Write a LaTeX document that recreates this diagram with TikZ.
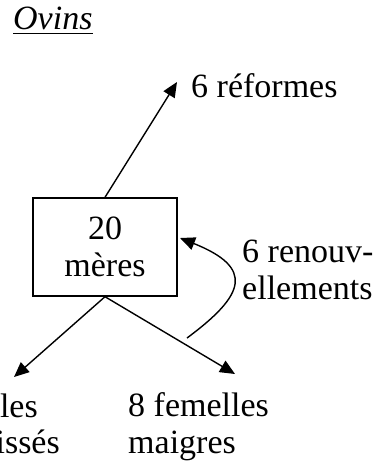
\documentclass[tikz,border=0pt]{standalone}
\usepackage{fontspec}
\setmainfont{Liberation Serif}
\usetikzlibrary{arrows.meta}
\tikzset{
  txt/.style={inner sep=0pt, font=\fontsize{34}{37}\selectfont},
  boxnode/.style={draw, line width=1.4pt, minimum width=144pt, minimum height=98pt, inner sep=0pt, align=center, font=\fontsize{34}{37}\selectfont},
  conn/.style={line width=1.4pt, -{Triangle[length=15pt,width=13pt]}}
}
\begin{document}
\begin{tikzpicture}[x=1pt,y=-1pt]
\useasboundingbox (0,0) rectangle (376,463);
% title
\node[txt, anchor=base west] (title) at (13,29) {\itshape Ovins};
\draw[line width=1.8pt] ([yshift=-4.5pt]title.base west) -- ([yshift=-4.5pt]title.base east);
% central box
\node[boxnode] (box) at (105,247) {20\\mères};
% labels
\node[txt, anchor=base west] (ref) at (191,97) {6 réformes};
\node[txt, anchor=base west, align=left] (ren) at (242,299) {6 renouv-\\ellements};
\node[txt, anchor=base west, align=left] (maig) at (128,453) {8 femelles\\maigres};
\node[txt, anchor=base east] (males1) at (38,417) {mâles};
\node[txt, anchor=base east] (males2) at (60,453) {engraissés};
% arrow end points
\coordinate (tipRef) at (177,82);
\coordinate (tipL) at (14,377);
\coordinate (tipM) at (235,374);
\coordinate (tipRen) at (180,238);
\coordinate (startRen) at (187,338);
% connectors
\draw[conn] (box.north) -- (tipRef);
\draw[conn] (box.south) -- (tipL);
\draw[conn] (box.south) -- (tipM);
\draw[conn] (startRen) .. controls (245,295) and (255,268) .. (tipRen);
\end{tikzpicture}
\end{document}
